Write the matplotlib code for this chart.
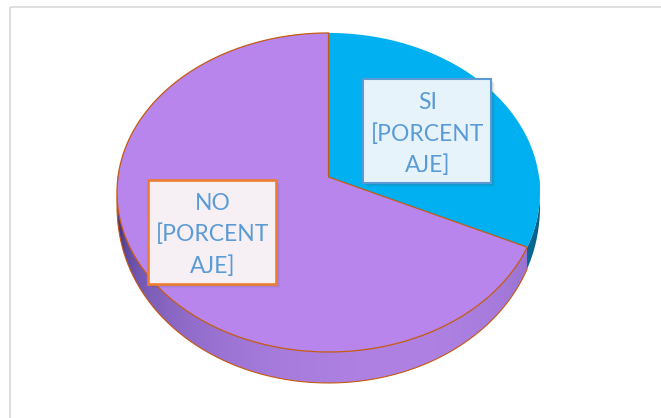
import numpy as np
import matplotlib
matplotlib.use("Agg")
import matplotlib.pyplot as plt
from matplotlib.patches import Polygon, Rectangle
from matplotlib.colors import to_rgb

# ---- data ----
categories = ["SI", "NO"]
values = [32, 68]
label_texts = ["SI\n[PORCENT\nAJE]", "NO\n[PORCENT\nAJE]"]

# ---- styles / layout ----
top_colors = ["#00B0F0", "#B785EC"]
side_light = ["#0A7AAE", "#AE81E3"]
side_dark = ["#04283C", "#48388A"]
edge_colors = [None, "#C55A11"]
box_face = ["#E6F3FB", "#F6F0F5"]
box_edge = ["#5B9BD5", "#ED7D31"]
box_lw = [1.5, 1.9]
box_xy = [(363, 79), (148, 180)]
box_wh = (128, 104)
text_color = "#5B9BD5"

W, H_px = 661, 418
cx, cy = 328.5, 177.0
R, Hh, k = 210.5, 158.0, 0.097
depth = 28.0


def proj(phi, d=0.0):
    u, v = np.cos(phi), np.sin(phi)
    s = 1.0 / (1.0 + k * v)
    return cx + R * u * s, cy - Hh * v * s + d * s


def side_depth(phi):
    return depth * np.clip(-np.sin(phi), 0, 1) ** 0.35


fig = plt.figure(figsize=(W / 100, H_px / 100), dpi=100)
ax = fig.add_axes([0, 0, 1, 1])
ax.set_xlim(0, W)
ax.set_ylim(H_px, 0)
ax.axis("off")

# frame
ax.plot([10, W], [7, 7], color="#D9D9D9", lw=1.2, solid_capstyle="butt")
ax.plot([10, 10], [7, H_px], color="#D9D9D9", lw=1.2, solid_capstyle="butt")

# slice angles (clockwise from top)
total = float(sum(values))
starts, ends = [], []
a = np.pi / 2
for v in values:
    ang = 2 * np.pi * v / total
    starts.append(a)
    ends.append(a - ang)
    a -= ang

L = np.array([0.3, -0.95])
L = L / np.linalg.norm(L)


def in_slice(phi, i):
    p = (starts[i] - phi) % (2 * np.pi)
    return p <= (starts[i] - ends[i]) + 1e-9


# side: gradient image clipped to the front band
front = np.linspace(np.pi, 2 * np.pi, 600)
fx, _ = proj(front)
xgrid = np.arange(0, W) + 0.5
img = np.ones((1, W, 4))
img[..., 3] = 0
for xi, x in enumerate(xgrid):
    if x < fx.min() - 2 or x > fx.max() + 2:
        continue
    phi = np.interp(x, fx, front)
    n = np.array([np.cos(phi), np.sin(phi)])
    b = max(0.0, float(n @ L)) ** 0.6
    i = 0 if in_slice(phi % (2 * np.pi), 0) else 1
    cl = np.array(to_rgb(side_light[i]))
    cd = np.array(to_rgb(side_dark[i]))
    img[0, xi, :3] = cd + (cl - cd) * b
    img[0, xi, 3] = 1
im = ax.imshow(np.repeat(img, 2, axis=0), extent=(0, W, 400, 150),
               aspect="auto", interpolation="bilinear", zorder=2)
tx, ty = proj(front)
bx, by = proj(front[::-1], side_depth(front[::-1]))
band = Polygon(list(zip(tx, ty)) + list(zip(bx, by)), closed=True,
               fc="none", ec="none", transform=ax.transData)
ax.add_patch(band)
im.set_clip_path(band)
# bottom outline (NO part)
m = np.array([not in_slice(p % (2 * np.pi), 0) for p in front])
bxs, bys = proj(front[m], side_depth(front[m]))
ax.plot(bxs, bys, color=edge_colors[1], lw=0.8, zorder=3)

# top faces
for i in range(len(values)):
    phis = np.linspace(starts[i], ends[i], 400)
    xs, ys = proj(phis)
    pts = [(cx, cy)] + list(zip(xs, ys))
    ec = edge_colors[i] if edge_colors[i] else "none"
    ax.add_patch(Polygon(pts, closed=True, fc=top_colors[i], ec=ec,
                         lw=0.9, zorder=4 + i, joinstyle="round"))

# labels
for i in range(len(values)):
    x0, y0 = box_xy[i]
    w, h = box_wh
    for s, al in [(5, 0.05), (4, 0.07), (3, 0.09), (2, 0.1)]:
        ax.add_patch(Rectangle((x0 + s - 1, y0 + s - 1), w, h, fc="#404040",
                               ec="none", alpha=al, zorder=8))
    ax.add_patch(Rectangle((x0, y0), w, h, fc=box_face[i], ec=box_edge[i],
                           lw=box_lw[i], zorder=9))
    ax.text(x0 + w / 2 + 1, y0 + h / 2 + 3, label_texts[i], ha="center",
            va="center", color=text_color, fontsize=16.5, family="Lato",
            linespacing=1.55, zorder=10)

fig.savefig("out.png", dpi=100, facecolor="white")
